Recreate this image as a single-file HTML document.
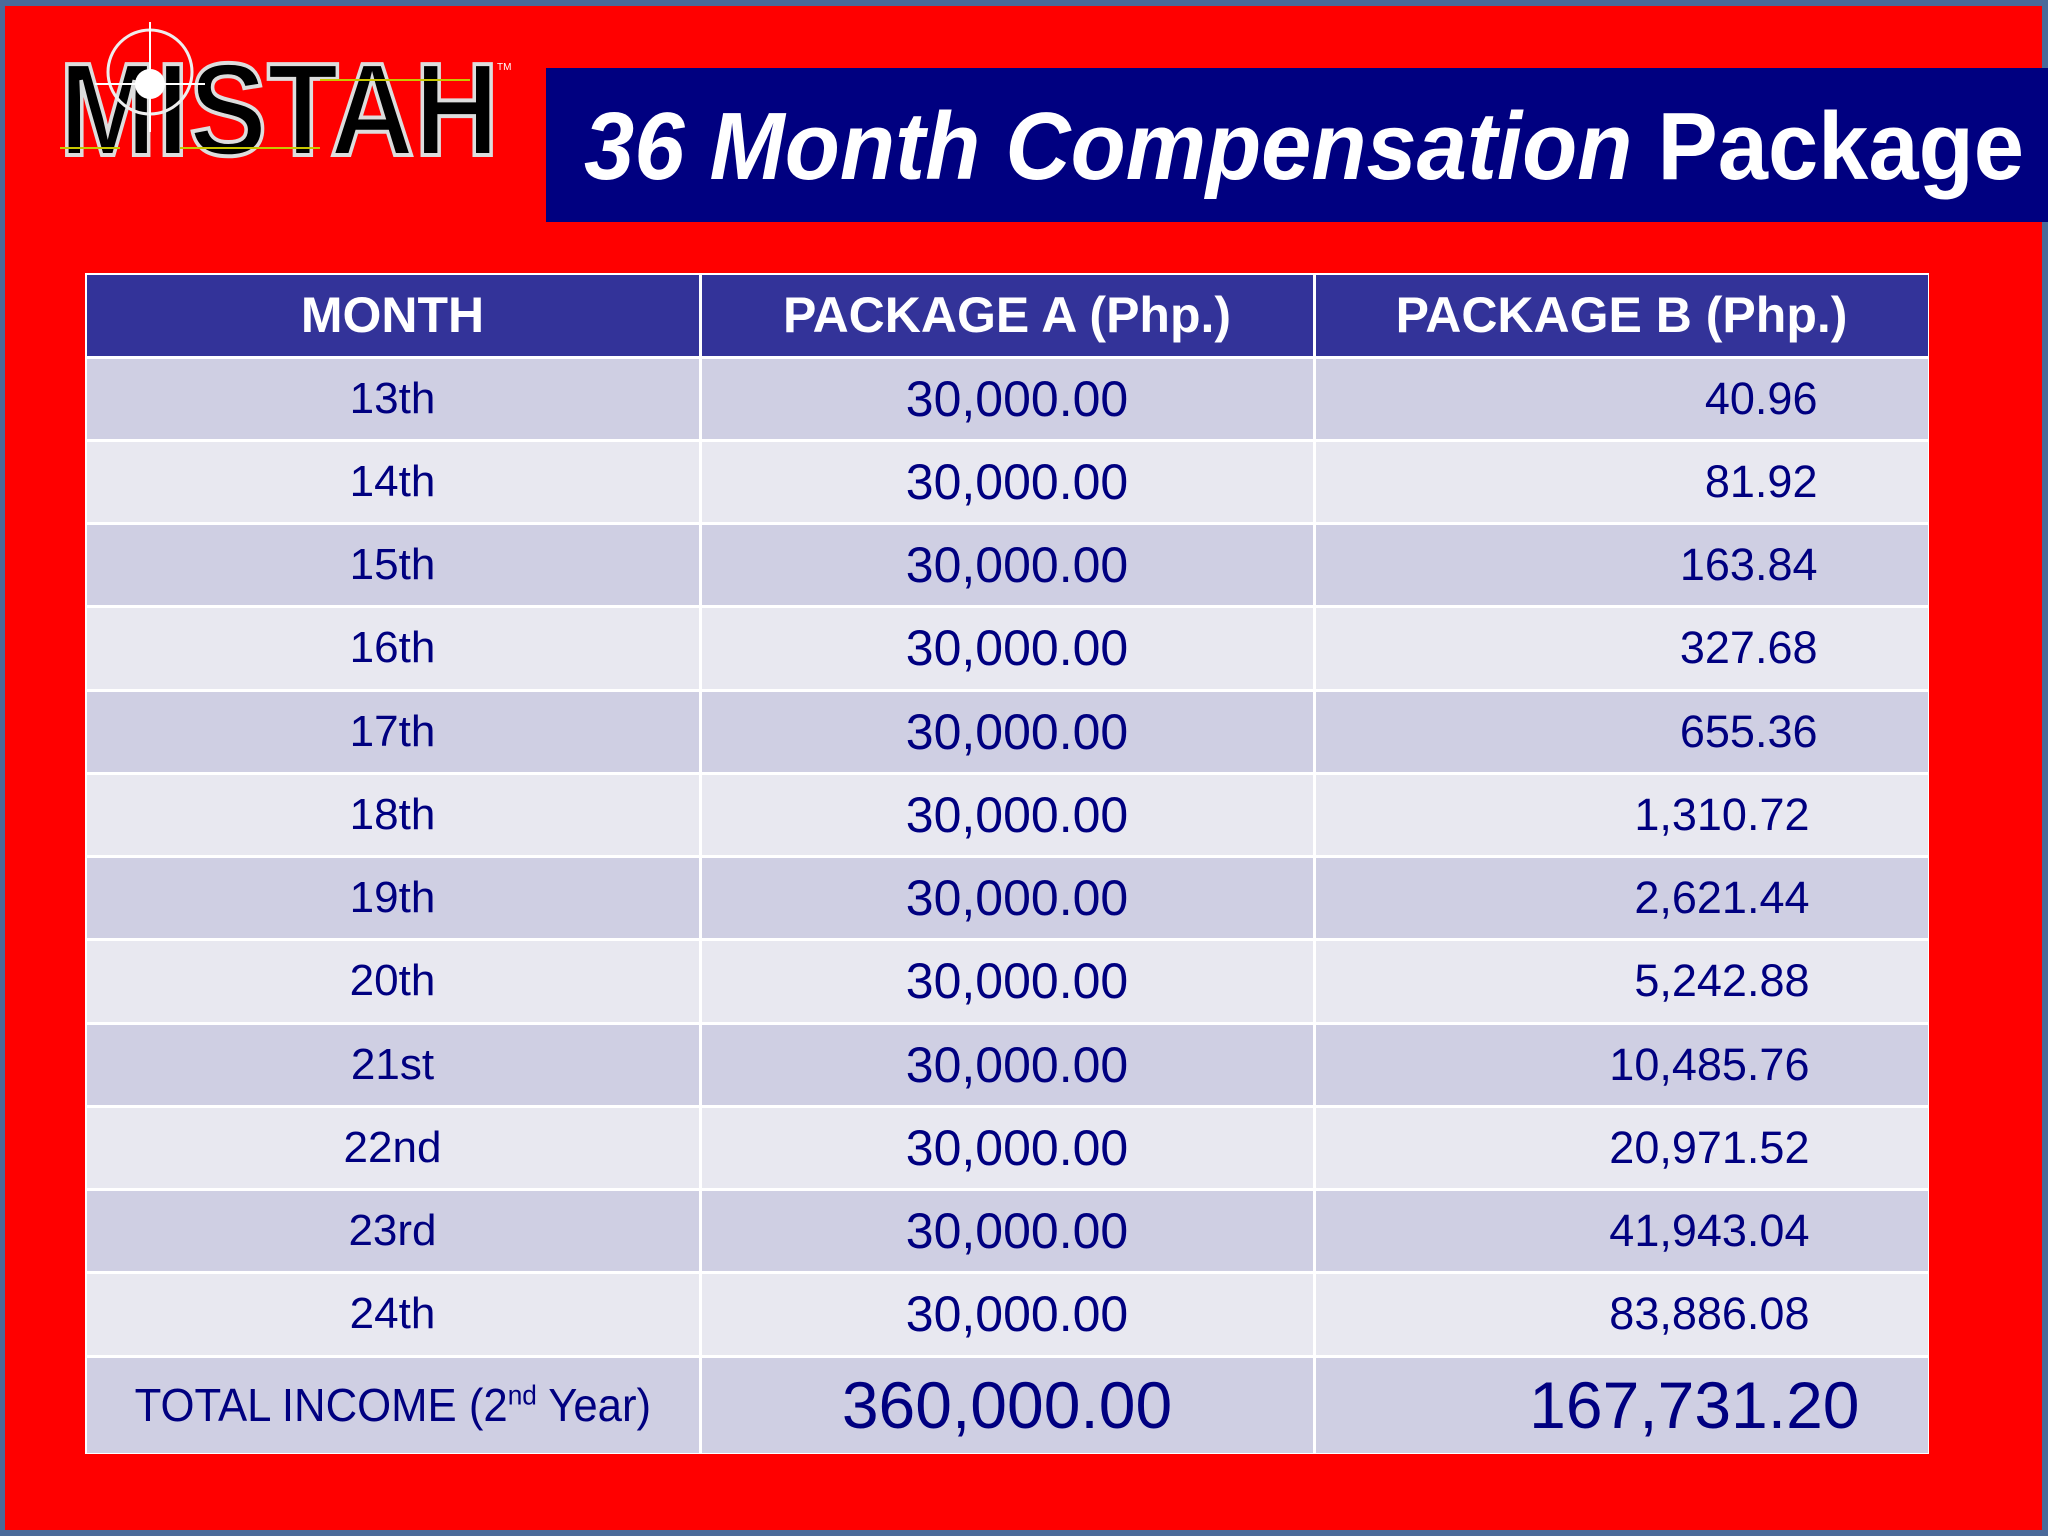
<!DOCTYPE html>
<html><head><meta charset="utf-8"><style>
*{margin:0;padding:0;box-sizing:border-box}
body{width:2048px;height:1536px;background:#4a6a9a;position:relative;overflow:hidden;font-family:"Liberation Sans",Arial,sans-serif}
#frame{position:absolute;left:5px;top:6px;width:2037px;height:1524px;background:#ff0000}
#title{position:absolute;left:546px;top:68px;width:1502px;height:154px;background:#000080}
#table{position:absolute;left:85px;top:273px;width:1844px;height:1181px;background:#fff}
.cell{position:absolute;display:flex;align-items:center;justify-content:center;color:#000080}
</style></head><body>
<div id="frame"></div>
<svg style="position:absolute;left:0;top:0" width="540" height="200">
  <text x="59" y="155" font-family="Liberation Sans" font-weight="bold" font-size="132" textLength="440" lengthAdjust="spacingAndGlyphs" fill="#000" stroke="#ddd" stroke-width="4">MISTAH</text>
  <path d="M60 148 H120 M180 148 H320 M320 80 H470" stroke="#c8c800" stroke-width="2" fill="none"/>
  <circle cx="150" cy="72" r="42" fill="none" stroke="#eee" stroke-width="3"/>
  <circle cx="150" cy="84" r="15" fill="#fff"/>
  <path d="M150 22 V132 M95 84 H205" stroke="#fff" stroke-width="2"/>
  <text x="497" y="70" font-size="10" fill="#fff">TM</text>
</svg>
<div id="title">
  <svg width="1502" height="154">
    <text x="38" y="111" font-family="Liberation Sans" font-weight="bold" font-size="96" fill="#fff" textLength="1440" lengthAdjust="spacingAndGlyphs"><tspan font-style="italic">36 Month Compensation</tspan> Package</text>
  </svg>
</div>
<div id="table"></div>
<script>
const months=["13th","14th","15th","16th","17th","18th","19th","20th","21st","22nd","23rd","24th"];
const packageA=["30,000.00","30,000.00","30,000.00","30,000.00","30,000.00","30,000.00","30,000.00","30,000.00","30,000.00","30,000.00","30,000.00","30,000.00"];
const packageB=["40.96","81.92","163.84","327.68","655.36","1,310.72","2,621.44","5,242.88","10,485.76","20,971.52","41,943.04","83,886.08"];
const headers=["MONTH","PACKAGE A (Php.)","PACKAGE B (Php.)"];
const totals=["<span style='display:inline-block;transform:scaleX(0.95);white-space:nowrap'>TOTAL INCOME (2<sup style='font-size:0.6em;vertical-align:0.6em'>nd</sup> Year)</span>","360,000.00","167,731.20"];
const t=document.getElementById('table');
const colX=[0,615,1229,1844];
const headH=81,rowH=83.25;
function cell(x,y,w,h,bg,html,style,name){
  const d=document.createElement('div');
  d.className='cell';
  
  
  d.style.left=(x+1.5)+'px';d.style.top=(y+1.5)+'px';d.style.width=(w-3)+'px';d.style.height=(h-3)+'px';
  d.style.background=bg;d.innerHTML=html;Object.assign(d.style,style);
  t.appendChild(d);return d;
}
headers.forEach((h,i)=>cell(colX[i],0,colX[i+1]-colX[i],headH+3,'#333399',h,{color:'#fff',fontWeight:'bold',fontSize:'50px'},'header-'+i));
months.forEach((m,r)=>{
  const y=headH+3+r*rowH;
  const bg=r%2==0?'#cfcfe3':'#e8e8f0';
  cell(colX[0],y,colX[1]-colX[0],rowH,bg,m,{fontSize:'44px'},'month-cell');
  cell(colX[1],y,colX[2]-colX[1],rowH,bg,packageA[r],{fontSize:'50px',paddingLeft:'20px'},'package-a-cell');
  cell(colX[2],y,colX[3]-colX[2],rowH,bg,packageB[r],{fontSize:'45px',justifyContent:'flex-end',paddingRight:(r<5?'110px':'118px')},'package-b-cell');
});
const ty=headH+3+12*rowH;
const th=1181-ty;
cell(colX[0],ty,colX[1]-colX[0],th,'#cfcfe3',totals[0],{fontSize:'46px'},'total-label');
cell(colX[1],ty,colX[2]-colX[1],th,'#cfcfe3',totals[1],{fontSize:'66px',paddingLeft:'0px'},'total-a');
cell(colX[2],ty,colX[3]-colX[2],th,'#cfcfe3',totals[2],{fontSize:'66px',justifyContent:'flex-end',paddingRight:'68px'},'total-b');
</script>
</body></html>
